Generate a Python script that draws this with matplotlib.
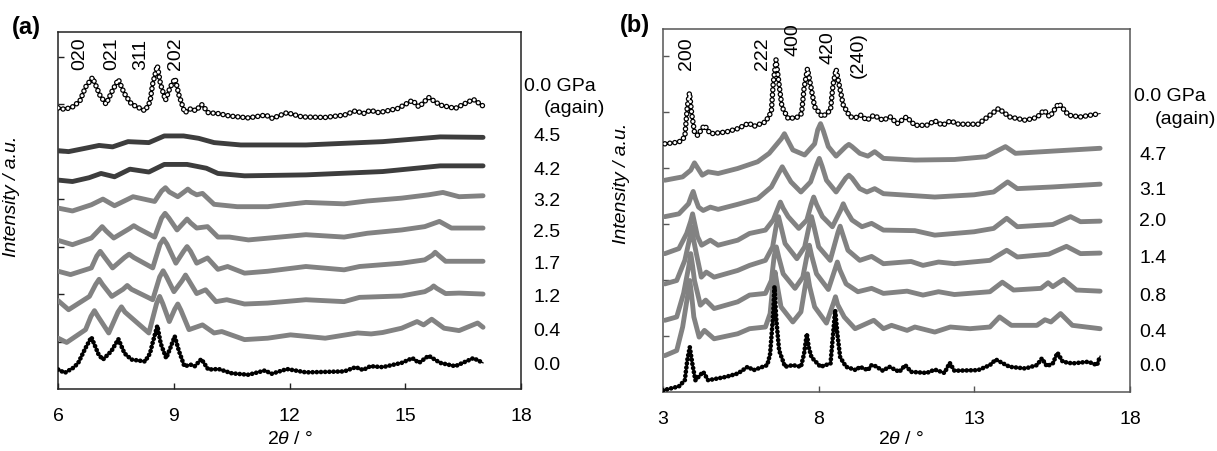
import matplotlib
matplotlib.use('Agg')
import matplotlib.pyplot as plt

plt.rcParams['font.family'] = ['Liberation Sans', 'DejaVu Sans']
plt.rcParams['lines.scale_dashes'] = False
plt.rcParams['mathtext.fontset'] = 'custom'
plt.rcParams['mathtext.it'] = 'Liberation Sans:italic'
plt.rcParams['mathtext.rm'] = 'Liberation Sans'

# ---------------- Panel (a) data: 2theta (deg), offset intensity (a.u.) ----------------
A_AGAIN_X = [6.00, 6.17, 6.40, 6.57, 6.71, 6.89, 7.08, 7.24, 7.39, 7.56, 7.71, 7.90, 8.25, 8.38, 8.45, 8.57, 8.65,
             8.78, 8.90, 9.03, 9.13, 9.28, 9.45, 9.56, 9.72, 9.89, 10.16, 10.44, 10.93, 11.38, 11.55, 11.93,
             12.32, 12.92, 13.42, 13.71, 13.91, 14.09, 14.31, 14.81, 15.18, 15.35, 15.60, 15.90, 16.29, 16.76, 17.01]
A_AGAIN_Y = [5.92, 5.89, 5.95, 6.08, 6.36, 6.56, 6.19, 6.00, 6.26, 6.52, 6.23, 6.00, 5.86, 6.05, 6.43, 6.81, 6.43,
             6.08, 6.35, 6.54, 6.19, 5.82, 5.91, 5.86, 5.99, 5.82, 5.80, 5.75, 5.71, 5.77, 5.70, 5.82,
             5.73, 5.72, 5.77, 5.86, 5.80, 5.87, 5.82, 5.91, 6.08, 5.94, 6.14, 5.98, 5.91, 6.10, 5.96]

A_45_X = [6.00, 6.27, 6.70, 7.06, 7.41, 7.81, 8.35, 8.75, 9.25, 9.64, 10.04, 10.73, 12.42, 14.41, 15.90, 17.01]
A_45_Y = [5.02, 5.00, 5.07, 5.13, 5.10, 5.21, 5.19, 5.33, 5.33, 5.28, 5.19, 5.14, 5.14, 5.21, 5.31, 5.30]

A_42_X = [6.00, 6.37, 6.80, 7.11, 7.46, 7.86, 8.35, 8.75, 9.34, 9.84, 10.14, 10.83, 12.42, 14.41, 15.90, 17.01]
A_42_Y = [4.40, 4.37, 4.45, 4.54, 4.47, 4.63, 4.57, 4.73, 4.73, 4.65, 4.54, 4.49, 4.51, 4.58, 4.70, 4.70]

A_32_X = [6.00, 6.37, 6.86, 7.16, 7.46, 7.94, 8.50, 8.68, 8.78, 8.88, 9.10, 9.28, 9.36, 9.45, 9.59, 9.74,
          10.04, 10.64, 11.43, 12.42, 13.41, 14.01, 14.90, 15.60, 15.97, 16.39, 17.01]
A_32_Y = [3.81, 3.75, 3.88, 4.00, 3.86, 4.05, 3.95, 4.17, 4.24, 4.15, 4.05, 4.16, 4.21, 4.15, 4.09, 4.12,
          3.89, 3.84, 3.84, 3.93, 3.90, 3.96, 4.02, 4.09, 4.14, 4.05, 4.07]

A_25_X = [6.00, 6.37, 6.86, 7.06, 7.14, 7.24, 7.44, 7.85, 7.96, 8.08, 8.50, 8.68, 8.77, 8.87, 9.08, 9.25,
          9.34, 9.43, 9.59, 9.87, 10.14, 10.44, 10.93, 12.42, 13.41, 14.01, 14.90, 15.50, 15.88, 16.19, 17.01]
A_25_Y = [3.13, 3.04, 3.18, 3.35, 3.42, 3.33, 3.18, 3.38, 3.44, 3.38, 3.20, 3.60, 3.70, 3.60, 3.35, 3.50,
          3.58, 3.50, 3.39, 3.42, 3.20, 3.20, 3.14, 3.25, 3.20, 3.28, 3.35, 3.42, 3.53, 3.39, 3.39]

A_17_X = [6.00, 6.32, 6.86, 7.00, 7.09, 7.18, 7.41, 7.72, 7.84, 7.96, 8.45, 8.64, 8.73, 8.82, 9.05, 9.25,
          9.34, 9.43, 9.59, 9.87, 10.14, 10.39, 10.83, 11.43, 12.42, 13.41, 13.81, 14.90, 15.50, 15.70,
          15.77, 15.85, 16.04, 17.01]
A_17_Y = [2.48, 2.41, 2.55, 2.80, 2.90, 2.80, 2.55, 2.77, 2.84, 2.77, 2.55, 3.05, 3.16, 3.05, 2.65, 2.90,
          3.00, 2.90, 2.65, 2.76, 2.52, 2.58, 2.44, 2.48, 2.58, 2.51, 2.58, 2.65, 2.72, 2.82,
          2.88, 2.82, 2.69, 2.69]

A_12_X = [6.00, 6.27, 6.81, 6.97, 7.06, 7.15, 7.39, 7.68, 7.79, 7.90, 8.45, 8.63, 8.72, 8.81, 9.00, 9.21,
          9.30, 9.39, 9.59, 9.82, 10.09, 10.37, 10.83, 11.43, 12.42, 13.41, 13.81, 14.90, 15.50, 15.66,
          15.73, 15.81, 16.04, 16.39, 17.01]
A_12_Y = [1.86, 1.67, 1.95, 2.20, 2.31, 2.20, 1.95, 2.10, 2.18, 2.10, 1.88, 2.36, 2.49, 2.36, 2.05, 2.28,
          2.40, 2.28, 2.01, 2.09, 1.84, 1.88, 1.79, 1.81, 1.88, 1.84, 1.93, 1.96, 2.05, 2.12,
          2.17, 2.12, 2.01, 2.02, 2.00]

A_04_X = [6.00, 6.22, 6.71, 6.85, 6.94, 7.03, 7.31, 7.55, 7.64, 7.73, 8.35, 8.55, 8.63, 8.71, 8.88, 9.02,
          9.10, 9.18, 9.39, 9.74, 10.04, 10.24, 10.83, 11.43, 12.02, 12.92, 13.76, 14.11, 14.41, 14.90,
          15.30, 15.47, 15.68, 16.00, 16.39, 16.87, 17.01]
A_04_Y = [1.07, 0.98, 1.25, 1.53, 1.65, 1.53, 1.18, 1.62, 1.73, 1.62, 1.18, 1.80, 1.95, 1.80, 1.42, 1.68,
          1.79, 1.66, 1.25, 1.35, 1.18, 1.21, 1.04, 1.07, 1.14, 1.07, 1.18, 1.16, 1.19, 1.28,
          1.42, 1.35, 1.47, 1.28, 1.23, 1.39, 1.30]

A_00_X = [6.00, 6.17, 6.40, 6.52, 6.70, 6.86, 7.05, 7.16, 7.38, 7.56, 7.72, 7.90, 8.25, 8.38, 8.45, 8.57, 8.66,
          8.80, 8.90, 9.02, 9.13, 9.27, 9.44, 9.54, 9.71, 9.89, 10.16, 10.50, 10.93, 11.36, 11.53, 11.93,
          12.42, 13.41, 13.71, 13.90, 14.09, 14.41, 14.90, 15.18, 15.35, 15.60, 15.90, 16.29, 16.76, 17.01]
A_00_Y = [0.41, 0.34, 0.45, 0.55, 0.85, 1.09, 0.72, 0.62, 0.80, 1.05, 0.75, 0.62, 0.58, 0.75, 0.98, 1.33, 0.95,
          0.65, 0.85, 1.11, 0.80, 0.48, 0.51, 0.48, 0.63, 0.41, 0.42, 0.33, 0.30, 0.39, 0.32, 0.42,
          0.35, 0.37, 0.46, 0.40, 0.48, 0.46, 0.55, 0.65, 0.55, 0.70, 0.55, 0.48, 0.65, 0.55]

A_LABELS = ['4.5', '4.2', '3.2', '2.5', '1.7', '1.2', '0.4', '0.0']
A_LABEL_Y = [5.31, 4.60, 3.95, 3.30, 2.63, 1.93, 1.21, 0.49]
A_HKL = ['020', '021', '311', '202']
A_HKL_X = [6.57, 7.39, 8.15, 9.05]

# ---------------- Panel (b) data ----------------
B_AGAIN_X = [3.06, 3.51, 3.70, 3.78, 3.85, 3.92, 4.01, 4.11, 4.33, 4.52, 5.02, 5.40, 5.76, 5.91, 6.29, 6.48,
             6.54, 6.63, 6.73, 6.82, 7.02, 7.30, 7.45, 7.53, 7.64, 7.77, 7.87, 8.12, 8.38, 8.46, 8.56, 8.67,
             8.79, 9.01, 9.20, 9.35, 9.55, 9.77, 10.06, 10.30, 10.52, 10.82, 11.09, 11.47, 11.73, 11.98,
             12.23, 12.49, 13.12, 13.50, 13.78, 14.13, 14.64, 15.01, 15.24, 15.42, 15.71, 16.03, 16.41, 17.04]
B_AGAIN_Y = [4.43, 4.46, 4.55, 5.09, 5.34, 4.97, 4.64, 4.58, 4.76, 4.61, 4.64, 4.70, 4.80, 4.74, 4.82, 5.00,
             5.51, 5.93, 5.48, 5.09, 4.88, 4.90, 4.97, 5.42, 5.77, 5.39, 5.09, 4.91, 5.03, 5.48, 5.76, 5.45,
             5.12, 4.91, 4.90, 4.94, 4.85, 4.94, 4.85, 4.91, 4.79, 4.91, 4.76, 4.76, 4.84, 4.76,
             4.84, 4.78, 4.78, 4.94, 5.06, 4.91, 4.85, 4.90, 5.03, 4.91, 5.15, 4.94, 4.91, 4.97]

B_47_X = [3.06, 3.63, 3.89, 4.01, 4.26, 4.45, 4.77, 5.40, 6.04, 6.41, 6.80, 6.90, 7.00, 7.17, 7.55, 7.87,
          7.97, 8.06, 8.15, 8.31, 8.56, 8.87, 8.97, 9.07, 9.32, 9.58, 9.80, 10.08, 11.09, 12.36, 13.37,
          14.00, 14.32, 15.52, 17.04]
B_47_Y = [3.78, 3.84, 3.96, 4.09, 3.87, 3.93, 3.90, 3.99, 4.11, 4.26, 4.52, 4.61, 4.50, 4.32, 4.23, 4.43,
          4.68, 4.79, 4.66, 4.38, 4.21, 4.38, 4.42, 4.38, 4.26, 4.21, 4.29, 4.17, 4.14, 4.15, 4.20,
          4.38, 4.26, 4.30, 4.35]

B_31_X = [3.06, 3.51, 3.82, 3.91, 3.97, 4.04, 4.14, 4.29, 4.52, 4.77, 5.40, 6.04, 6.48, 6.73, 6.83, 6.93,
          7.11, 7.43, 7.74, 7.93, 8.02, 8.11, 8.25, 8.56, 8.87, 8.97, 9.07, 9.32, 9.55, 9.80, 10.08,
          11.73, 12.99, 13.62, 14.07, 14.38, 15.52, 17.04]
B_31_Y = [3.13, 3.18, 3.36, 3.50, 3.58, 3.45, 3.30, 3.24, 3.30, 3.26, 3.35, 3.45, 3.66, 3.92, 4.02, 3.92,
          3.75, 3.57, 3.75, 4.05, 4.17, 4.03, 3.78, 3.57, 3.82, 3.87, 3.82, 3.63, 3.57, 3.63, 3.54,
          3.48, 3.52, 3.57, 3.75, 3.63, 3.66, 3.71]

B_20_X = [3.06, 3.51, 3.76, 3.89, 3.95, 4.02, 4.11, 4.24, 4.52, 4.77, 5.40, 5.78, 6.29, 6.54, 6.69, 6.77,
          6.86, 7.02, 7.36, 7.62, 7.76, 7.84, 7.93, 8.12, 8.44, 8.71, 8.79, 8.88, 9.07, 9.39, 9.70, 10.08,
          11.09, 11.73, 12.99, 13.62, 14.04, 14.38, 15.52, 16.09, 16.41, 17.04]
B_20_Y = [2.47, 2.56, 2.83, 3.05, 3.18, 3.00, 2.77, 2.62, 2.71, 2.62, 2.71, 2.83, 2.89, 3.07, 3.28, 3.39,
          3.28, 3.13, 2.92, 3.07, 3.35, 3.48, 3.35, 3.13, 2.95, 3.25, 3.36, 3.25, 3.07, 2.95, 3.01, 2.89,
          2.88, 2.80, 2.86, 2.92, 3.10, 2.95, 2.99, 3.13, 3.04, 3.05]

B_14_X = [3.06, 3.44, 3.70, 3.86, 3.92, 3.98, 4.07, 4.23, 4.39, 4.64, 5.40, 5.78, 6.29, 6.52, 6.64, 6.71,
          6.79, 6.92, 7.30, 7.55, 7.70, 7.77, 7.85, 8.00, 8.37, 8.62, 8.69, 8.77, 8.94, 9.32, 9.70, 10.08,
          10.97, 11.35, 11.85, 12.36, 13.50, 14.04, 14.38, 15.39, 15.96, 16.41, 17.04]
B_14_Y = [1.93, 1.99, 2.35, 2.75, 2.95, 2.72, 2.47, 2.05, 2.14, 2.05, 2.17, 2.26, 2.35, 2.59, 2.98, 3.13,
          2.95, 2.65, 2.38, 2.59, 2.98, 3.13, 2.95, 2.59, 2.35, 2.85, 2.96, 2.82, 2.53, 2.35, 2.42, 2.29,
          2.33, 2.26, 2.32, 2.29, 2.35, 2.53, 2.41, 2.46, 2.60, 2.47, 2.48]

B_08_X = [3.06, 3.44, 3.66, 3.83, 3.89, 3.95, 4.01, 4.20, 4.37, 4.64, 5.40, 5.78, 6.29, 6.48, 6.57, 6.64,
          6.72, 6.86, 7.24, 7.49, 7.63, 7.70, 7.78, 7.93, 8.31, 8.53, 8.60, 8.68, 8.88, 9.26, 9.70, 10.08,
          10.84, 11.35, 11.85, 12.36, 13.50, 13.90, 14.26, 15.14, 15.37, 15.52, 15.87, 16.28, 17.04]
B_08_Y = [1.28, 1.34, 1.76, 2.25, 2.47, 2.25, 1.99, 1.55, 1.64, 1.49, 1.61, 1.73, 1.76, 1.99, 2.42, 2.59,
          2.40, 2.11, 1.85, 2.05, 2.45, 2.62, 2.42, 2.11, 1.83, 2.20, 2.32, 2.18, 1.93, 1.79, 1.85, 1.76,
          1.80, 1.73, 1.79, 1.74, 1.79, 1.96, 1.82, 1.85, 1.95, 1.88, 2.01, 1.82, 1.80]

B_04_X = [3.06, 3.44, 3.63, 3.80, 3.86, 3.92, 3.99, 4.16, 4.33, 4.64, 5.40, 5.78, 6.29, 6.44, 6.53, 6.60,
          6.67, 6.79, 7.17, 7.43, 7.57, 7.64, 7.71, 7.87, 8.25, 8.47, 8.54, 8.61, 8.82, 9.17, 9.77, 10.08,
          10.34, 10.84, 11.09, 11.73, 12.23, 12.86, 13.50, 13.81, 14.19, 15.01, 15.27, 15.46, 15.77,
          16.15, 17.04]
B_04_Y = [0.65, 0.74, 1.16, 1.75, 1.99, 1.72, 1.34, 0.98, 1.10, 0.95, 1.04, 1.13, 1.16, 1.40, 1.92, 2.14,
          1.90, 1.52, 1.25, 1.43, 1.90, 2.11, 1.88, 1.52, 1.23, 1.58, 1.70, 1.56, 1.34, 1.13, 1.28, 1.13,
          1.19, 1.10, 1.16, 1.07, 1.16, 1.13, 1.16, 1.34, 1.19, 1.19, 1.29, 1.25, 1.40,
          1.19, 1.13]

B_00_X = [3.00, 3.51, 3.70, 3.78, 3.86, 3.94, 4.04, 4.29, 4.45, 5.02, 5.40, 5.72, 5.91, 6.35, 6.44, 6.54,
          6.58, 6.64, 6.73, 6.92, 7.17, 7.43, 7.53, 7.62, 7.68, 7.77, 8.06, 8.38, 8.53, 8.60, 8.69, 8.88,
          9.20, 9.32, 9.58, 9.70, 9.83, 10.06, 10.27, 10.59, 10.78, 10.97, 11.47, 11.73, 12.04, 12.21,
          12.36, 13.12, 13.50, 13.69, 14.13, 14.64, 15.01, 15.17, 15.33, 15.52, 15.67, 15.84, 16.15, 16.66,
          16.94, 17.04]
B_00_Y = [0.03, 0.10, 0.21, 0.57, 0.80, 0.51, 0.21, 0.36, 0.21, 0.27, 0.33, 0.45, 0.39, 0.48, 0.68, 1.40,
          1.88, 1.28, 0.74, 0.45, 0.48, 0.45, 0.68, 1.04, 0.80, 0.62, 0.45, 0.51, 1.46, 1.04, 0.62, 0.45,
          0.39, 0.45, 0.39, 0.48, 0.46, 0.38, 0.45, 0.36, 0.48, 0.36, 0.34, 0.40, 0.34, 0.52,
          0.38, 0.39, 0.48, 0.58, 0.45, 0.42, 0.48, 0.60, 0.46, 0.51, 0.70, 0.54, 0.51, 0.54,
          0.48, 0.64]

B_LABELS = ['4.7', '3.1', '2.0', '1.4', '0.8', '0.4', '0.0']
B_LABEL_Y = [4.23, 3.60, 3.05, 2.38, 1.71, 1.07, 0.46]
B_HKL = ['200', '222', '400', '420', '(240)']
B_HKL_X = [3.76, 6.20, 7.17, 8.31, 9.26]
B_HKL_Y = [5.74, 5.74, 6.00, 5.86, 5.60]

GRAY = '#828282'
DARK = '#3d3d3d'
FS = 14


def draw(ax, x, y, style):
    if style == 'open':
        ax.plot(x, y, color='black', lw=0.7, zorder=3)
        ax.plot(x, y, color='black', lw=4.0, linestyle=(0, (0.01, 3.6)),
                dash_capstyle='round', zorder=4)
        ax.plot(x, y, color='white', lw=2.2, linestyle=(0, (0.01, 3.6)),
                dash_capstyle='round', zorder=5)
    elif style == 'black':
        ax.plot(x, y, color='black', lw=0.9, zorder=3)
        ax.plot(x, y, color='black', lw=3.4, linestyle=(0, (0.01, 3.0)),
                dash_capstyle='round', zorder=4)
    elif style == 'dark':
        ax.plot(x, y, color=DARK, lw=3.5, solid_capstyle='round', solid_joinstyle='round', zorder=3)
    else:
        ax.plot(x, y, color=GRAY, lw=3.5, solid_capstyle='round', solid_joinstyle='round', zorder=3)


def style_axes(ax, spine_color):
    for s in ax.spines.values():
        s.set_color(spine_color)
        s.set_linewidth(1.1)
    ax.tick_params(axis='both', direction='in', length=4, width=1, color=spine_color,
                   top=False, right=False, labelsize=FS, pad=14)
    ax.tick_params(axis='y', labelleft=False)


fig = plt.figure(figsize=(12.17, 4.51), dpi=100)

# ---------- Panel (a) ----------
axa = fig.add_axes([0.0478, 0.1375, 0.3805, 0.7916])
draw(axa, A_AGAIN_X, A_AGAIN_Y, 'open')
draw(axa, A_45_X, A_45_Y, 'dark')
draw(axa, A_42_X, A_42_Y, 'dark')
for xs, ys in [(A_32_X, A_32_Y), (A_25_X, A_25_Y), (A_17_X, A_17_Y), (A_12_X, A_12_Y), (A_04_X, A_04_Y)]:
    draw(axa, xs, ys, 'gray')
draw(axa, A_00_X, A_00_Y, 'black')
axa.set_xlim(6, 18)
axa.set_ylim(0, 7.52)
axa.set_xticks([6, 9, 12, 15, 18])
axa.set_yticks([1, 2, 3, 4, 5, 6, 7])
style_axes(axa, '#222222')
axa.set_xlabel(r'2$\mathit{\theta}$ / °', fontsize=FS)
axa.xaxis.set_label_coords(0.5, -0.118)
axa.set_ylabel('Intensity / a.u.', fontsize=FS, fontstyle='italic')
axa.yaxis.set_label_coords(-0.083, 0.54)
axa.text(18.06, 6.38, '0.0 GPa', fontsize=FS, va='center', ha='left', clip_on=False)
axa.text(18.58, 5.91, '(again)', fontsize=FS, va='center', ha='left', clip_on=False)
for lab, yy in zip(A_LABELS, A_LABEL_Y):
    axa.text(18.31, yy, lab, fontsize=FS, va='center', ha='left', clip_on=False)
for lab, xx in zip(A_HKL, A_HKL_X):
    axa.text(xx, 6.72, lab, fontsize=FS, rotation=90, va='bottom', ha='center')
fig.text(0.010, 0.94, '(a)', fontsize=17, fontweight='bold', va='center', ha='left')

# ---------- Panel (b) ----------
axb = fig.add_axes([0.5448, 0.1308, 0.3837, 0.805])
draw(axb, B_AGAIN_X, B_AGAIN_Y, 'open')
for xs, ys in [(B_47_X, B_47_Y), (B_31_X, B_31_Y), (B_20_X, B_20_Y), (B_14_X, B_14_Y),
               (B_08_X, B_08_Y), (B_04_X, B_04_Y)]:
    draw(axb, xs, ys, 'gray')
draw(axb, B_00_X, B_00_Y, 'black')
axb.set_xlim(3, 18)
axb.set_ylim(0, 6.48)
axb.set_xticks([3, 8, 13, 18])
axb.set_yticks([1, 2, 3, 4, 5, 6])
style_axes(axb, '#555555')
axb.set_xlabel(r'2$\mathit{\theta}$ / °', fontsize=FS)
axb.xaxis.set_label_coords(0.51, -0.108)
axb.set_ylabel('Intensity / a.u.', fontsize=FS, fontstyle='italic')
axb.yaxis.set_label_coords(-0.07, 0.576)
axb.text(18.14, 5.28, '0.0 GPa', fontsize=FS, va='center', ha='left', clip_on=False)
axb.text(18.78, 4.87, '(again)', fontsize=FS, va='center', ha='left', clip_on=False)
for lab, yy in zip(B_LABELS, B_LABEL_Y):
    axb.text(18.30, yy, lab, fontsize=FS, va='center', ha='left', clip_on=False)
for lab, xx, yy in zip(B_HKL, B_HKL_X, B_HKL_Y):
    axb.text(xx, yy, lab, fontsize=FS, rotation=90, va='bottom', ha='center')
fig.text(0.509, 0.944, '(b)', fontsize=17, fontweight='bold', va='center', ha='left')

fig.savefig('out.png', dpi=100)
